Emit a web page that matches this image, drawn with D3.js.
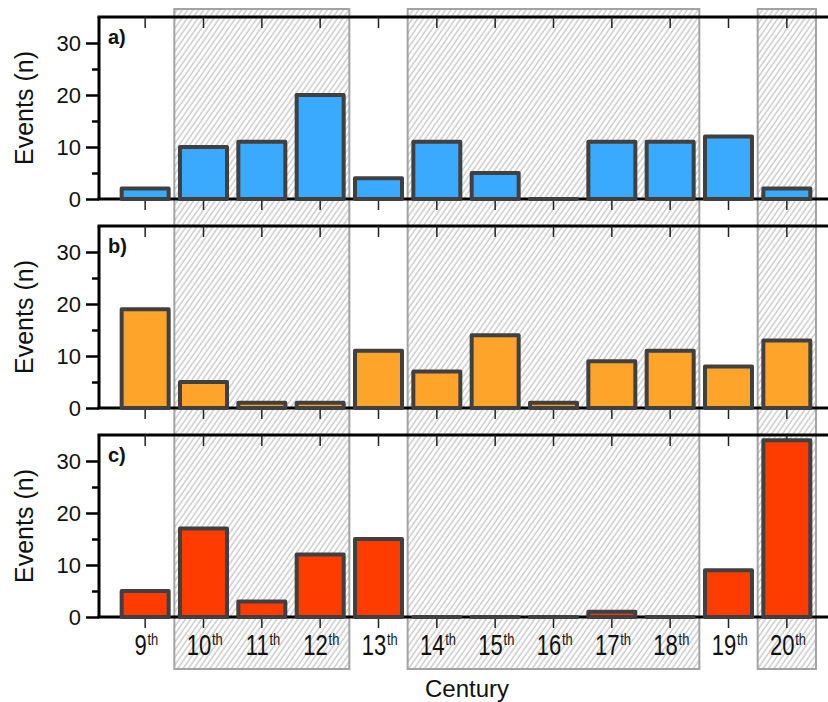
<!DOCTYPE html>
<html>
<head>
<meta charset="utf-8">
<script src="https://cdn.jsdelivr.net/npm/d3@7"></script>
<style>
  html, body { margin: 0; padding: 0; background: #fff; }
  svg { display: block; font-family: "Liberation Sans", Arial, sans-serif; }
</style>
</head>
<body>
<svg id="chart" width="828" height="702"></svg>
<script>
// ---- data ----
const categories = ["9", "10", "11", "12", "13", "14", "15", "16", "17", "18", "19", "20"];
const seriesA = [2, 10, 11, 20, 4, 11, 5, 0, 11, 11, 12, 2];
const seriesB = [19, 5, 1, 1, 11, 7, 14, 1, 9, 11, 8, 13];
const seriesC = [5, 17, 3, 12, 15, 0, 0, 0, 1, 0, 9, 34];
const panelLabels = ["a)", "b)", "c)"];
const yMajorTicks = [0, 10, 20, 30];
const yMinorTicks = [5, 15, 25];
const shadedSpans = [["10", "12"], ["14", "18"], ["20", "20"]];
const ordinalSuffix = "th";

const panels = [
  { values: seriesA, label: panelLabels[0], color: "#39aaff" },
  { values: seriesB, label: panelLabels[1], color: "#ffa42a" },
  { values: seriesC, label: panelLabels[2], color: "#ff3c00" }
];

const svg = d3.select("#chart");
const W = 828;
const axisLeftX = 99;
const panelTops = [17, 226, 435];
const panelH = 182;

const x = d3.scaleBand().domain(categories).range([116, 816]).padding(0);
const bw = x.bandwidth();

// hatch pattern
const defs = svg.append("defs");
const pat = defs.append("pattern")
  .attr("id", "hatch")
  .attr("patternUnits", "userSpaceOnUse")
  .attr("width", 4.4).attr("height", 10)
  .attr("patternTransform", "rotate(35)");
pat.append("rect").attr("width", 4.4).attr("height", 10).attr("fill", "#fff");
pat.append("line").attr("x1", 1).attr("x2", 1).attr("y1", 0).attr("y2", 10)
  .attr("stroke", "#b4b4b4").attr("stroke-width", 1);

// shaded regions
svg.append("g").selectAll("rect").data(shadedSpans).join("rect")
  .attr("x", d => x(d[0]))
  .attr("width", d => x(d[1]) + bw - x(d[0]))
  .attr("y", 9)
  .attr("height", 669 - 9)
  .attr("fill", "url(#hatch)")
  .attr("stroke", "#a3a3a3")
  .attr("stroke-width", 2);

panels.forEach((p, pi) => {
  const top = panelTops[pi];
  const y = d3.scaleLinear().domain([0, 35]).range([top + panelH, top]);
  const g = svg.append("g");
  const y0 = y(0);

  // top and bottom lines, left axis line
  g.append("line").attr("x1", axisLeftX - 1.5).attr("x2", W).attr("y1", top).attr("y2", top)
    .attr("stroke", "#000").attr("stroke-width", 3);
  g.append("line").attr("x1", axisLeftX - 1.5).attr("x2", W).attr("y1", y0).attr("y2", y0)
    .attr("stroke", "#000").attr("stroke-width", 3);
  g.append("line").attr("x1", axisLeftX).attr("x2", axisLeftX).attr("y1", top).attr("y2", y0)
    .attr("stroke", "#000").attr("stroke-width", 3);

  // top inward ticks
  const topAx = g.append("g").attr("transform", `translate(0,${top})`)
    .call(d3.axisBottom(x).tickSize(11).tickFormat(""));
  topAx.select(".domain").remove();
  topAx.selectAll(".tick line").attr("stroke", "#222").attr("stroke-width", 1.5);

  // bottom outward ticks
  const botAx = g.append("g").attr("transform", `translate(0,${y0})`)
    .call(d3.axisBottom(x).tickSize(11).tickPadding(8)
      .tickFormat(pi === 2 ? (d => d) : ""));
  botAx.select(".domain").remove();
  botAx.selectAll(".tick line").attr("stroke", "#222").attr("stroke-width", 1.5);
  if (pi === 2) {
    botAx.selectAll(".tick text").each(function(d) {
      const t = d3.select(this);
      t.text(null)
        .attr("fill", "#111")
        .attr("x", 1.5)
        .attr("y", 38.5).attr("dy", null)
        .attr("transform", "scale(0.76,1)")
        .attr("font-family", "'Liberation Sans', Arial, sans-serif");
      t.append("tspan").attr("font-size", 29).text(d);
      t.append("tspan").attr("font-size", 17).attr("dy", -10).attr("dx", 1).text(ordinalSuffix);
    });
  } else {
    botAx.selectAll(".tick text").remove();
  }

  // left axis major
  const yAx = g.append("g").attr("transform", `translate(${axisLeftX},0)`)
    .call(d3.axisLeft(y).tickValues(yMajorTicks).tickSize(13).tickPadding(5).tickFormat(d3.format("d")));
  yAx.select(".domain").remove();
  yAx.selectAll(".tick line").attr("stroke", "#000").attr("stroke-width", 2.5);
  yAx.selectAll(".tick text").attr("font-size", 22).attr("fill", "#111")
    .attr("font-family", "'Liberation Sans', Arial, sans-serif");
  // left axis minor
  const yMin = g.append("g").attr("transform", `translate(${axisLeftX},0)`)
    .call(d3.axisLeft(y).tickValues(yMinorTicks).tickSize(7).tickFormat(""));
  yMin.select(".domain").remove();
  yMin.selectAll(".tick line").attr("stroke", "#000").attr("stroke-width", 2.5);

  // bars (drawn as closed paths so zero-height bars still show their outline)
  const barW = 47;
  g.append("g").selectAll("path").data(p.values).join("path")
    .attr("d", (d, i) => {
      const bx = x(categories[i]) + bw / 2 - barW / 2;
      const by = y(d);
      const p2 = d3.path();
      p2.moveTo(bx, y0);
      p2.lineTo(bx, by);
      p2.lineTo(bx + barW, by);
      p2.lineTo(bx + barW, y0);
      p2.closePath();
      return p2.toString();
    })
    .attr("fill", p.color)
    .attr("stroke", "#404040")
    .attr("stroke-width", 4)
    .attr("stroke-linejoin", "round");

  // panel label
  g.append("text")
    .attr("x", 108).attr("y", top + 27)
    .attr("font-size", 20).attr("font-weight", "bold").attr("fill", "#111")
    .text(p.label);

  // y title
  g.append("text")
    .attr("transform", `translate(33,${top + panelH / 2}) rotate(-90)`)
    .attr("text-anchor", "middle")
    .attr("font-size", 25).attr("fill", "#111")
    .text("Events (n)");
});

// x title
svg.append("text")
  .attr("x", 467).attr("y", 697)
  .attr("text-anchor", "middle")
  .attr("font-size", 24).attr("fill", "#111")
  .text("Century");
</script>
</body>
</html>
